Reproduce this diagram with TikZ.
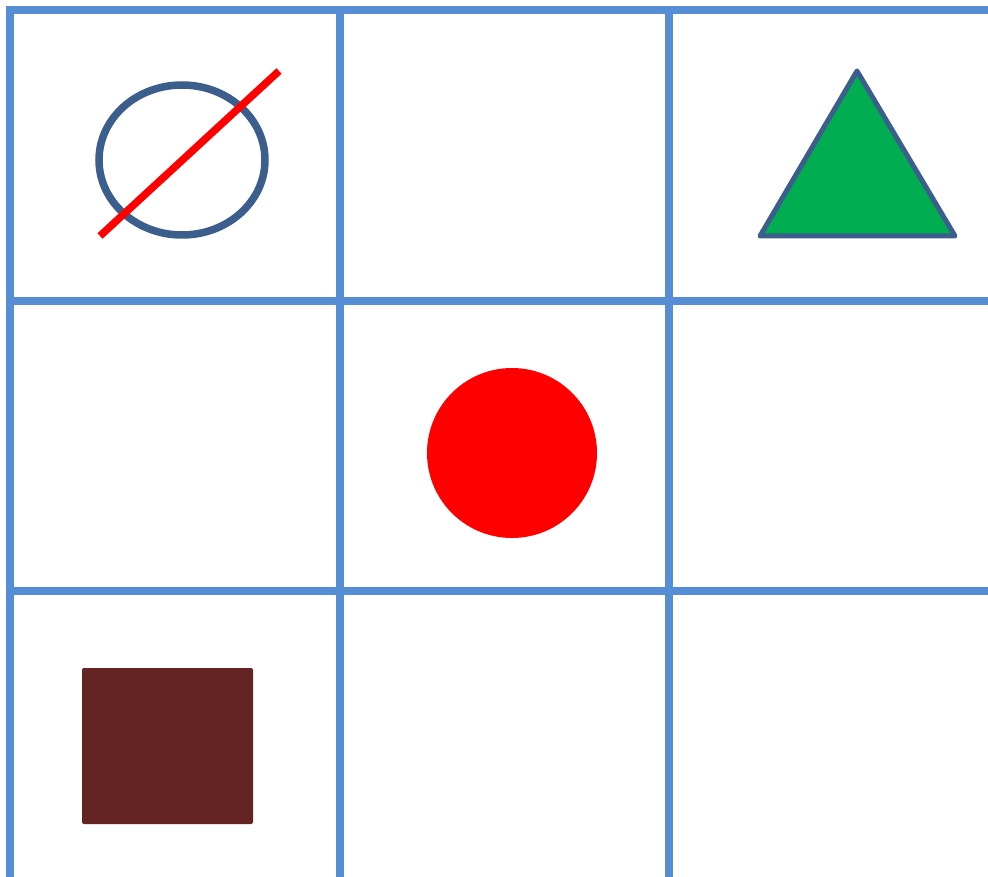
\documentclass[tikz,border=0pt]{standalone}
\begin{document}
\begin{tikzpicture}[x=1pt,y=-1pt]
\definecolor{gridblue}{HTML}{558ED5}
\definecolor{darkblue}{HTML}{3B5E8C}
\definecolor{tgreen}{HTML}{00AD50}
\definecolor{brownsq}{HTML}{632423}
\tikzset{gridline/.style={draw=gridblue,line width=8pt}}
\useasboundingbox (0,0) rectangle (988,877);
\fill[white] (0,0) rectangle (988,877);
% grid
\coordinate (v1t) at (10,6); \coordinate (v1b) at (10,877);
\coordinate (v2t) at (340,6); \coordinate (v2b) at (340,877);
\coordinate (v3t) at (669,6); \coordinate (v3b) at (669,877);
\coordinate (h1l) at (6,10); \coordinate (h1r) at (988,10);
\coordinate (h2l) at (6,301); \coordinate (h2r) at (988,301);
\coordinate (h3l) at (6,591); \coordinate (h3r) at (988,591);
\draw[gridline] (v1t) -- (v1b);
\draw[gridline] (v2t) -- (v2b);
\draw[gridline] (v3t) -- (v3b);
\draw[gridline] (h1l) -- (h1r);
\draw[gridline] (h2l) -- (h2r);
\draw[gridline] (h3l) -- (h3r);
% ellipse with slash
\draw[darkblue,line width=7.5pt] (182,160) ellipse [x radius=83, y radius=75];
\coordinate (s1) at (100,236); \coordinate (s2) at (279,71);
\draw[red,line width=7.5pt] (s1) -- (s2);
% triangle
\draw[darkblue,line width=5pt,fill=tgreen,line join=round] (857,71) -- (955,236) -- (760,236) -- cycle;
% red circle
\fill[red] (512,453) circle [radius=85];
% brown square
\fill[brownsq,rounded corners=2pt] (82,668) rectangle (253,824);
\end{tikzpicture}
\end{document}
